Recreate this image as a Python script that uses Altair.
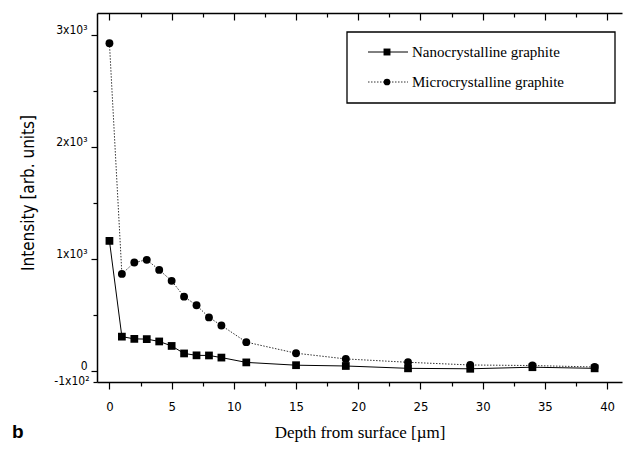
import altair as alt
import pandas as pd

# ---- data ----
depth = [0, 1, 2, 3, 4, 5, 6, 7, 8, 9, 11, 15, 19, 24, 29, 34, 39]
nano = [1160, 305, 285, 283, 262, 222, 155, 138, 137, 118, 75, 50, 43, 22, 18, 32, 22]
micro = [2925, 865, 967, 991, 901, 803, 662, 585, 477, 405, 256, 157, 106, 76, 52, 47, 34]
series_names = ["Nanocrystalline graphite", "Microcrystalline graphite"]
x_ticks = [i * 2.5 for i in range(17)]
y_ticks = [-100, 0, 500, 1000, 1500, 2000, 2500, 3000]

df = pd.DataFrame({
    "depth": depth + depth,
    "intensity": nano + micro,
    "series": [series_names[0]] * len(depth) + [series_names[1]] * len(depth),
})

W, H = 525, 369
SANS = "Liberation Sans Narrow, DejaVu Sans Condensed, Liberation Sans"
SERIF = "Liberation Serif, DejaVu Serif"

xs = alt.Scale(domain=[-1, 41.2], nice=False, zero=False)
ys = alt.Scale(domain=[-100, 3195], nice=False, zero=False)

x_bottom = alt.Axis(
    orient="bottom", values=x_ticks, grid=False,
    labelExpr="datum.value % 5 === 0 ? format(datum.value, 'd') : ''",
    tickSize={"condition": {"test": "datum.value % 5 === 0", "value": 7}, "value": 4},
    tickColor="black", domainColor="black", domainWidth=1.5, tickWidth=1.2,
    labelFont=SANS, labelFontSize=13, labelColor="black", labelPadding=11,
    labelOverlap=False,
    title="Depth from surface [µm]", titleFont=SERIF, titleFontSize=17,
    titleFontWeight="normal", titleColor="black", titleY=55,
    titleBaseline="alphabetic",
)
x_top = alt.Axis(
    orient="bottom", offset=-H, values=x_ticks, grid=False, labels=False,
    tickSize={"condition": {"test": "datum.value % 5 === 0", "value": 7}, "value": 4},
    tickColor="black", domainColor="black", domainWidth=1.5, tickWidth=1.2,
    title=None,
)
y_left = alt.Axis(
    orient="left", values=y_ticks, grid=False,
    labelExpr=("datum.value == 3000 ? '3x10³' : datum.value == 2000 ? '2x10³' : "
               "datum.value == 1000 ? '1x10³' : datum.value == 0 ? '0' : "
               "datum.value == -100 ? '-1x10²' : ''"),
    tickSize={"condition": {"test": "datum.value % 1000 === 0", "value": 6}, "value": 4},
    labelOffset={"condition": {"test": "datum.value < 0", "value": -2}, "value": -5},
    tickColor="black", domainColor="black", domainWidth=1.5, tickWidth=1.2,
    labelFont=SANS, labelFontSize=12, labelColor="black", labelPadding=4,
    labelOverlap=False,
    title="Intensity [arb. units]", titleFont=SANS, titleFontSize=17,
    titleFontWeight="normal", titleColor="black", titleX=-69, titleY=H / 2 - 5,
    titleAngle=270, titleBaseline="middle", titleAlign="center",
)

base = alt.Chart(df)
nano_f = "datum.series == '%s'" % series_names[0]
micro_f = "datum.series == '%s'" % series_names[1]

nano_line = base.transform_filter(nano_f).mark_line(color="black", strokeWidth=1).encode(
    x=alt.X("depth:Q", scale=xs, axis=x_bottom),
    y=alt.Y("intensity:Q", scale=ys, axis=y_left),
)
micro_line = base.transform_filter(micro_f).mark_line(
    color="#333333", strokeWidth=1, strokeDash=[1.5, 1.5]
).encode(
    x=alt.X("depth:Q", scale=xs, axis=x_top),
    y=alt.Y("intensity:Q", scale=ys, axis=None),
)
nano_pts = base.transform_filter(nano_f).mark_point(
    shape="square", filled=True, size=60, color="black", opacity=1
).encode(
    x=alt.X("depth:Q", scale=xs, axis=None),
    y=alt.Y("intensity:Q", scale=ys, axis=None),
)
micro_pts = base.transform_filter(micro_f).mark_point(
    shape="circle", filled=True, size=62, color="black", opacity=1
).encode(
    x=alt.X("depth:Q", scale=xs, axis=None),
    y=alt.Y("intensity:Q", scale=ys, axis=None),
)

# ---- manual legend ----
one = pd.DataFrame({"k": [0]})
leg_box = alt.Chart(one).mark_rect(fill="white", stroke="black", strokeWidth=1.3).encode(
    x=alt.value(250), x2=alt.value(518), y=alt.value(19), y2=alt.value(90)
)
leg_r1 = alt.Chart(one).mark_rule(color="black", strokeWidth=1).encode(
    x=alt.value(271), x2=alt.value(311), y=alt.value(39)
)
leg_p1 = alt.Chart(one).mark_point(shape="square", filled=True, size=48, color="black", opacity=1).encode(
    x=alt.value(290), y=alt.value(39)
)
leg_t1 = alt.Chart(one).mark_text(align="left", baseline="middle", font=SERIF, fontSize=15, color="black").encode(
    x=alt.value(315), y=alt.value(39), text=alt.value(series_names[0])
)
leg_r2 = alt.Chart(one).mark_rule(color="#333333", strokeWidth=1, strokeDash=[1.5, 1.5]).encode(
    x=alt.value(271), x2=alt.value(311), y=alt.value(69)
)
leg_p2 = alt.Chart(one).mark_point(shape="circle", filled=True, size=45, color="black", opacity=1).encode(
    x=alt.value(290), y=alt.value(69)
)
leg_t2 = alt.Chart(one).mark_text(align="left", baseline="middle", font=SERIF, fontSize=15, color="black").encode(
    x=alt.value(315), y=alt.value(69), text=alt.value(series_names[1])
)
panel_b = alt.Chart(one).mark_text(
    align="left", baseline="alphabetic", font="Liberation Sans, Arial", fontSize=19,
    fontWeight="bold", color="black"
).encode(x=alt.value(-85), y=alt.value(425), text=alt.value("b"))

chart = alt.layer(
    nano_line, micro_line, nano_pts, micro_pts,
    leg_box, leg_r1, leg_p1, leg_t1, leg_r2, leg_p2, leg_t2, panel_b,
).resolve_axis(x="independent", y="independent").properties(
    width=W, height=H,
    padding={"left": 89, "top": 5, "right": 7, "bottom": 62},
    autosize=alt.AutoSizeParams(type="none"),
    background="white",
).configure_view(stroke=None)

chart.save("out.html", embed_options={"renderer": "svg", "actions": False})
